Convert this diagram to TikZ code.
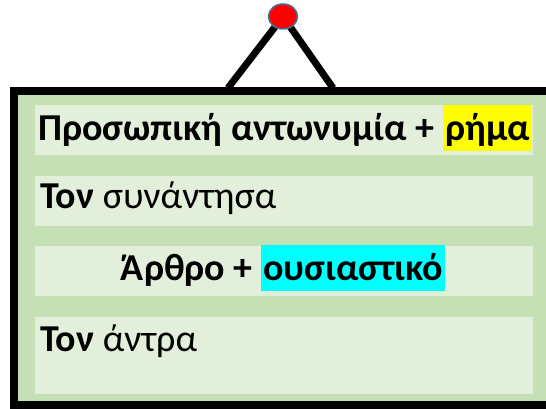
\documentclass[tikz,border=0pt]{standalone}
\usepackage{fontspec}
\setmainfont{Carlito}
\usetikzlibrary{shapes.geometric}
\definecolor{framegreen}{HTML}{C5E0B4}
\definecolor{boxgreen}{HTML}{E2EFDA}
\definecolor{ringblue}{HTML}{41719C}
\definecolor{hlyellow}{HTML}{FFFF00}
\definecolor{hlcyan}{HTML}{00FFFF}
\newcommand{\hlword}[2]{{\setlength{\fboxsep}{0pt}\colorbox{#1}{\rule[-10pt]{0pt}{46pt}\hspace{2pt}#2\hspace{2pt}}}}
\tikzset{
  x=1pt,y=1pt,
  panel/.style={fill=boxgreen,draw=none,inner sep=0pt,anchor=north west},
  txt/.style={inner sep=0pt,anchor=base west,font=\fontsize{38}{44}\selectfont},
  cord/.style={line width=7pt,black}
}
\begin{document}
\begin{tikzpicture}
\useasboundingbox (0,0) rectangle (546,409);
\clip (0,0) rectangle (546,409);
% hanger
\coordinate (pin) at (283,392.5);
\coordinate (l) at (228,321);
\coordinate (r) at (333,321);
\draw[cord] (l) -- (pin) -- (r);
% frame
\draw[line width=8pt,fill=framegreen] (13.5,318) rectangle (570,3.5);
\node[ellipse,minimum width=29pt,minimum height=25pt,fill=red,draw=ringblue,line width=1.5pt,inner sep=0pt] (ring) at (pin) {};
% panels
\node[panel,minimum width=498pt,minimum height=50pt] (p1) at (35,304) {};
\node[panel,minimum width=498pt,minimum height=50pt] (p2) at (35,233) {};
\node[panel,minimum width=498pt,minimum height=50pt] (p3) at (35,163) {};
\node[panel,minimum width=498pt,minimum height=77pt] (p4) at (35,92) {};
% texts
\node[txt,anchor=base] (t1) at (285,268) {\bfseries Προσωπική αντωνυμία + \hlword{hlyellow}{ρήμα}};
\node[txt] (t2) at (40,200) {\bfseries Τον\mdseries\ συνάντησα};
\node[txt,anchor=base] (t3) at (283,128) {\bfseries Άρθρο + \hlword{hlcyan}{ουσιαστικό}};
\node[txt] (t4) at (40,57) {\bfseries Τον\mdseries\ άντρα};
\end{tikzpicture}
\end{document}
